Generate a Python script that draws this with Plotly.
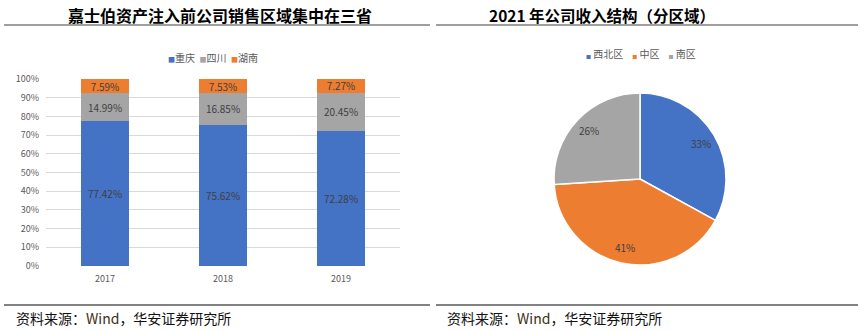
import math
import plotly.graph_objects as go

years = ["2017", "2018", "2019"]
chongqing = [77.42, 75.62, 72.28]
sichuan = [14.99, 16.85, 20.45]
hunan = [7.59, 7.53, 7.27]
bar_names = ["重庆", "四川", "湖南"]

regions = ["西北区", "中区", "南区"]
region_share = [33, 41, 26]

yticks = list(range(0, 101, 10))
ytick_text = [f"{v}%" for v in yticks]

BLUE, GRAY, ORANGE = "#4472C4", "#A5A5A5", "#ED7D31"
TXT = "#404040"
CJK = "Noto Sans CJK SC"
W, H = 866, 331

fig = go.Figure()
bar_cols = [BLUE, GRAY, ORANGE]
for name, vals, col in zip(bar_names, [chongqing, sichuan, hunan], bar_cols):
    fig.add_trace(go.Bar(
        x=years, y=vals, name=name, marker=dict(color=col, line=dict(width=0)),
        text=[f"{v:.2f}%" for v in vals], textposition="inside",
        insidetextanchor="middle", textangle=0, constraintext="none",
        textfont=dict(size=10, color=TXT, family=CJK),
        showlegend=False, hoverinfo="skip"))

pie_cols = [BLUE, ORANGE, GRAY]
pcx, pcy, pr = 640, 179, 86
fig.add_trace(go.Pie(
    labels=regions, values=region_share, sort=False, direction="clockwise",
    rotation=0, marker=dict(colors=pie_cols, line=dict(color="white", width=1.5)),
    textinfo="none",
    domain=dict(x=[(pcx-pr)/W, (pcx+pr)/W], y=[1-(pcy+pr)/H, 1-(pcy-pr)/H]),
    showlegend=False, hoverinfo="skip"))

# pie labels, positioned from the slice mid-angles
tot = sum(region_share)
cum = 0
for v in region_share:
    mid = (cum + v/2) / tot * 2 * math.pi
    cum += v
    lx = pcx + 0.82 * pr * math.sin(mid)
    ly = pcy - 0.82 * pr * math.cos(mid)
    fig.add_annotation(text=f"{v}%", x=lx/W, y=1-ly/H, xref="paper", yref="paper",
                       showarrow=False, xanchor="center", yanchor="middle",
                       font=dict(size=10, color=TXT, family=CJK))

fig.update_layout(
    width=W, height=H, margin=dict(l=0, r=0, t=0, b=0),
    paper_bgcolor="white", plot_bgcolor="white",
    barmode="stack", bargap=0.6,
    font=dict(family=CJK, color="#595959", size=9),
    xaxis=dict(domain=[46/W, 400/W], showgrid=False, showline=False, automargin=False,
               tickfont=dict(size=9, color="#595959"), ticks="", ticklabelstandoff=6),
    yaxis=dict(range=[0, 100], tickvals=yticks, ticktext=ytick_text, automargin=False,
               showgrid=True, gridcolor="#D9D9D9", gridwidth=1,
               zeroline=False, domain=[1-266/H, 1-79/H],
               tickfont=dict(size=9, color="#595959"), ticks="", ticklen=0,
               ticklabelstandoff=6),
    showlegend=False,
)

def legend_text(names, cols, sq, gap):
    parts = [f"<span style='color:{c};font-size:{sq}px'>■</span>{n}" for n, c in zip(names, cols)]
    return gap.join(parts)

fig.add_annotation(text=legend_text(bar_names, bar_cols, 7, "&nbsp;&nbsp;"), x=213/W, y=1-58/H,
                   xref="paper", yref="paper", showarrow=False, xanchor="center", yanchor="middle",
                   font=dict(size=10, color="#595959", family=CJK))
fig.add_annotation(text=legend_text(regions, pie_cols, 5, "&nbsp;&nbsp;&nbsp;&nbsp;").replace("</span>", "</span>&nbsp;"),
                   x=641/W, y=1-54/H,
                   xref="paper", yref="paper", showarrow=False, xanchor="center", yanchor="middle",
                   font=dict(size=10, color="#595959", family=CJK))

# Titles
fig.add_annotation(text="<b>嘉士伯资产注入前公司销售区域集中在三省</b>", x=220/W, y=1-15/H,
                   xref="paper", yref="paper", showarrow=False, xanchor="center", yanchor="middle",
                   font=dict(size=16, color="#000000", family=CJK))
fig.add_annotation(text="<b>2021 年公司收入结构（分区域）</b>", x=602/W, y=1-15/H,
                   xref="paper", yref="paper", showarrow=False, xanchor="center", yanchor="middle",
                   font=dict(size=15.5, color="#000000", family=CJK))
# Sources
for xs in [14, 445]:
    fig.add_annotation(text="资料来源：<span style='color:#3d3010'>Wind</span>，华安证券研究所",
                       x=xs/W, y=1-318/H, xref="paper", yref="paper", showarrow=False,
                       xanchor="left", yanchor="middle", font=dict(size=14, color="#111111", family=CJK))
# Rules
for x0, x1 in [(4, 430), (436, 858)]:
    fig.add_shape(type="line", xref="paper", yref="paper", x0=x0/W, x1=x1/W,
                  y0=1-25/H, y1=1-25/H, line=dict(color="#7f7f7f", width=1.5))
    fig.add_shape(type="line", xref="paper", yref="paper", x0=x0/W, x1=x1/W,
                  y0=1-305/H, y1=1-305/H, line=dict(color="#595959", width=1.5))

fig.write_html("out.html")
